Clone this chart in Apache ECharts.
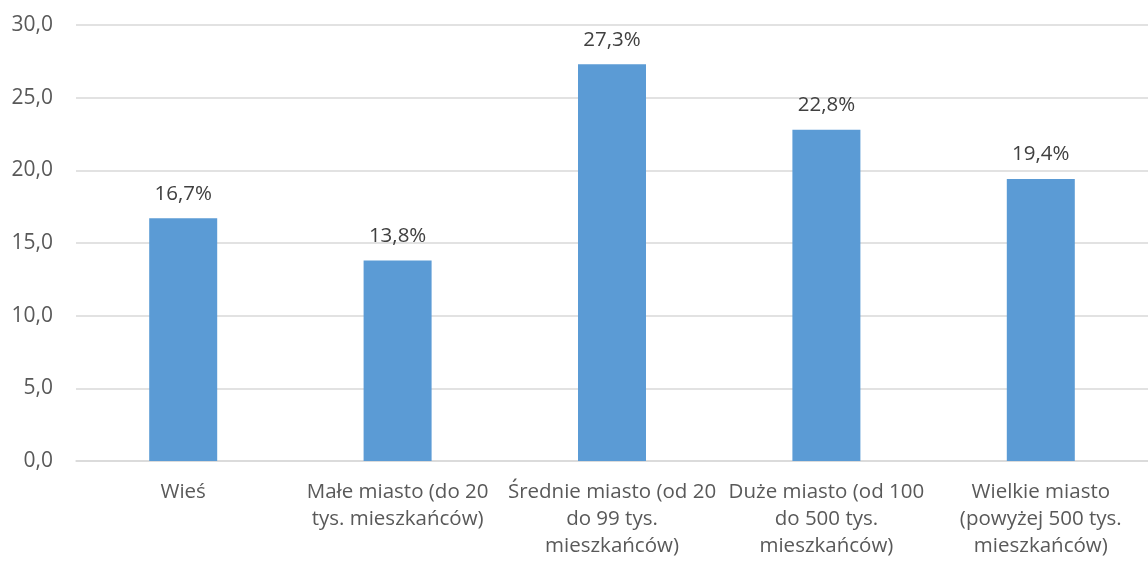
<!DOCTYPE html>
<html>
<head>
<meta charset="utf-8">
<script src="https://cdn.jsdelivr.net/npm/echarts@6/dist/echarts.min.js"></script>
<style>html,body{margin:0;padding:0;background:#fff}#c{width:1148px;height:561px}</style>
</head>
<body>
<div id="c"></div>
<script>
const categories = [
  "Wieś",
  "Małe miasto (do 20\ntys. mieszkańców)",
  "Średnie miasto (od 20\ndo 99 tys.\nmieszkańców)",
  "Duże miasto (od 100\ndo 500 tys.\nmieszkańców)",
  "Wielkie miasto\n(powyżej 500 tys.\nmieszkańców)"
];
const values = [16.7, 13.8, 27.3, 22.8, 19.4];

const chart = echarts.init(document.getElementById('c'), null, {renderer: 'canvas'});
const font = '"Open Sans", "Noto Sans", sans-serif';
chart.setOption({
  animation: false,
  backgroundColor: '#fff',
  grid: {left: 76, right: 0, top: 25, bottom: 100, containLabel: false},
  xAxis: {
    type: 'category',
    data: categories,
    axisLine: {show: true, lineStyle: {color: '#d9d9d9', width: 1.5}},
    axisTick: {show: false},
    axisLabel: {
      color: '#595959', fontFamily: font, fontSize: 20.5, lineHeight: 27,
      margin: 18, interval: 0, align: 'center'
    }
  },
  yAxis: {
    type: 'value',
    min: 0, max: 30, interval: 5,
    axisLine: {show: false},
    axisTick: {show: false},
    splitLine: {lineStyle: {color: '#d9d9d9', width: 1.5}},
    axisLabel: {
      color: '#595959', fontFamily: font, fontSize: 21, margin: 23,
      formatter: v => v.toFixed(1).replace('.', ',')
    }
  },
  series: [{
    type: 'bar',
    data: values,
    barWidth: 68,
    itemStyle: {color: '#5b9bd5'},
    label: {
      show: true, position: 'top', distance: 14,
      color: '#404040', fontFamily: font, fontSize: 20.5,
      formatter: p => p.value.toFixed(1).replace('.', ',') + '%'
    }
  }]
});
</script>
</body>
</html>
